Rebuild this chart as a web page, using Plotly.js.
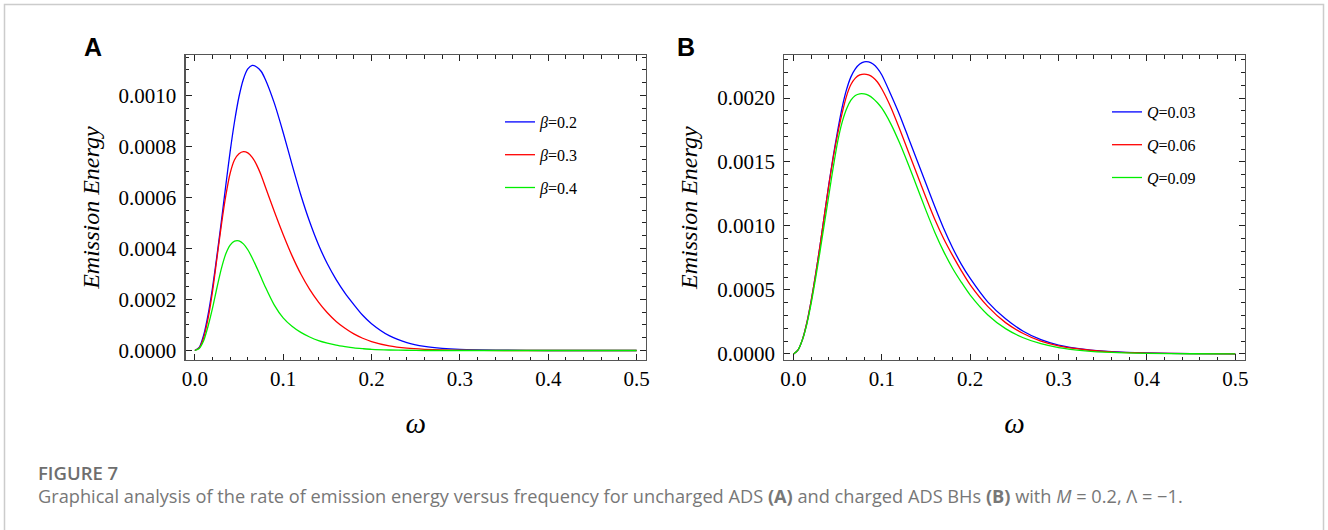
<!DOCTYPE html>
<html>
<head>
<meta charset="utf-8">
<script src="https://cdn.plot.ly/plotly-3.0.1.min.js"></script>
<style>
  html, body { margin: 0; padding: 0; background: #ffffff; }
  #chart { width: 1328px; height: 530px; }
</style>
</head>
<body>
<div id="chart"></div>
<script>
// ---------- Data ----------
// Panel A: uncharged ADS, varying beta
const omegaA = [0, 0.005, 0.01, 0.015, 0.02, 0.025, 0.03, 0.035, 0.04, 0.045, 0.05, 0.055, 0.06, 0.065, 0.07, 0.075, 0.08, 0.09, 0.1, 0.11, 0.12, 0.13, 0.14, 0.15, 0.16, 0.17, 0.18, 0.19, 0.2, 0.22, 0.24, 0.26, 0.28, 0.3, 0.35, 0.4, 0.45, 0.5];
const beta02 = [0, 0.000012, 0.00006, 0.00014, 0.000245, 0.00037, 0.000505, 0.000645, 0.00078, 0.000898, 0.000995, 0.001064, 0.001104, 0.001118, 0.001112, 0.001095, 0.001062, 0.00097, 0.000855, 0.00073, 0.00061, 0.000505, 0.000415, 0.00034, 0.000278, 0.000225, 0.00018, 0.000138, 0.000105, 0.000058, 0.000031, 0.000016, 0.000008, 0.000004, 0.000001, 0, 0, 0];
const beta03 = [0, 0.00001, 0.00005, 0.000125, 0.00023, 0.00036, 0.00049, 0.000605, 0.000695, 0.000748, 0.000772, 0.00078, 0.000775, 0.000757, 0.000728, 0.000688, 0.00064, 0.000545, 0.000455, 0.000372, 0.0003, 0.00024, 0.00019, 0.000148, 0.000114, 0.000087, 0.000065, 0.000048, 0.000035, 0.000018, 0.000009, 0.0000045, 0.000002, 0.000001, 0, 0, 0, 0];
const beta04 = [0, 0.000008, 0.000038, 0.000095, 0.000165, 0.000245, 0.00032, 0.000378, 0.000413, 0.000429, 0.00043, 0.000418, 0.000395, 0.000363, 0.000326, 0.000287, 0.000248, 0.000178, 0.000128, 0.000095, 0.000071, 0.000053, 0.000039, 0.000029, 0.000021, 0.000015, 0.00001, 0.000007, 0.0000045, 0.000002, 0.000001, 0, 0, 0, 0, 0, 0, 0];
const labelsA = ['<i>β</i>=0.2', '<i>β</i>=0.3', '<i>β</i>=0.4'];

// Panel B: charged ADS BHs, varying Q
const omegaB = [0, 0.005, 0.01, 0.015, 0.02, 0.025, 0.03, 0.035, 0.04, 0.045, 0.05, 0.055, 0.06, 0.065, 0.07, 0.075, 0.08, 0.085, 0.09, 0.095, 0.1, 0.11, 0.12, 0.13, 0.14, 0.15, 0.16, 0.17, 0.18, 0.19, 0.2, 0.22, 0.24, 0.26, 0.28, 0.3, 0.33, 0.36, 0.4, 0.45, 0.5];
const q003 = [0, 0.00003, 0.00011, 0.00024, 0.000415, 0.00062, 0.000845, 0.001085, 0.001325, 0.001545, 0.001745, 0.001925, 0.002065, 0.002165, 0.002228, 0.002265, 0.002283, 0.002282, 0.002265, 0.002232, 0.00218, 0.00203, 0.00187, 0.00169, 0.00151, 0.00133, 0.00115, 0.00098, 0.00083, 0.0007, 0.00059, 0.000405, 0.000275, 0.000178, 0.000112, 0.00007, 0.000036, 0.000018, 0.000008, 0.000003, 0.000001];
const q006 = [0, 0.00003, 0.00011, 0.00024, 0.000415, 0.00062, 0.000845, 0.001085, 0.00132, 0.001535, 0.00172, 0.00188, 0.002015, 0.002105, 0.002155, 0.00218, 0.002187, 0.00218, 0.00216, 0.002125, 0.00207, 0.00193, 0.00176, 0.00158, 0.0014, 0.00122, 0.00105, 0.0009, 0.00077, 0.00065, 0.00054, 0.00037, 0.000245, 0.00016, 0.0001, 0.000063, 0.000033, 0.000016, 0.000007, 0.0000025, 0.000001];
const q009 = [0, 0.00003, 0.00011, 0.00023, 0.000395, 0.00059, 0.0008, 0.00102, 0.00124, 0.00146, 0.00166, 0.00181, 0.001915, 0.001983, 0.00202, 0.002033, 0.002032, 0.00202, 0.001997, 0.001963, 0.00192, 0.0018, 0.00165, 0.00148, 0.0013, 0.00112, 0.00095, 0.0008, 0.00067, 0.00056, 0.00046, 0.000305, 0.000198, 0.000127, 0.00008, 0.00005, 0.000025, 0.000012, 0.000005, 0.000002, 0.000001];
const labelsB = ['<i>Q</i>=0.03', '<i>Q</i>=0.06', '<i>Q</i>=0.09'];

const seriesColors = ['#0000ff', '#ff0000', '#00ee00'];

// ---------- Geometry (canvas pixels) ----------
const W = 1328, H = 530;
const px = v => v / W;
const py = v => 1 - v / H;

const serif = 'Liberation Serif, Times New Roman, serif';

function mkTrace(x, y, name, color, xa, ya, leg, grp) {
  return {
    x: x, y: y, name: name, type: 'scatter', mode: 'lines',
    line: {color: color, width: 1.3, shape: 'spline', smoothing: 0.7},
    xaxis: xa, yaxis: ya, legend: leg, legendgroup: grp,
    hoverinfo: 'skip'
  };
}

const traces = [
  mkTrace(omegaA, beta02, labelsA[0], seriesColors[0], 'x', 'y', 'legend', 'a1'),
  mkTrace(omegaA, beta03, labelsA[1], seriesColors[1], 'x', 'y', 'legend', 'a2'),
  mkTrace(omegaA, beta04, labelsA[2], seriesColors[2], 'x', 'y', 'legend', 'a3'),
  mkTrace(omegaB, q003, labelsB[0], seriesColors[0], 'x2', 'y2', 'legend2', 'b1'),
  mkTrace(omegaB, q006, labelsB[1], seriesColors[1], 'x2', 'y2', 'legend2', 'b2'),
  mkTrace(omegaB, q009, labelsB[2], seriesColors[2], 'x2', 'y2', 'legend2', 'b3')
];

function xAxis(domain) {
  return {
    domain: domain, range: [-0.0104, 0.5104], dtick: 0.1, tick0: 0, tickformat: '.1f',
    showgrid: false, zeroline: false, showline: true, linecolor: '#555', linewidth: 1.2,
    mirror: 'allticks', ticks: 'inside', ticklen: 6, tickwidth: 1, tickcolor: '#222',
    minor: {dtick: 0.02, ticks: 'inside', ticklen: 3.5, tickwidth: 1, tickcolor: '#222', showgrid: false},
    tickfont: {family: serif, size: 21, color: '#000'},
    ticklabelstandoff: 0,
    title: {text: '<i>ω</i>', font: {family: serif, size: 29, color: '#000'}, standoff: 22},
    automargin: false
  };
}
function yAxis(range, dtick, minorDtick, anchor) {
  return {
    domain: [py(360), py(55.3)], range: range, dtick: dtick, tick0: 0, tickformat: '.4f',
    anchor: anchor,
    showgrid: false, zeroline: false, showline: true, linecolor: '#555', linewidth: 1.2,
    mirror: 'allticks', ticks: 'inside', ticklen: 6, tickwidth: 1, tickcolor: '#222',
    minor: {dtick: minorDtick, ticks: 'inside', ticklen: 3.5, tickwidth: 1, tickcolor: '#222', showgrid: false},
    tickfont: {family: serif, size: 21, color: '#000'},
    ticklabelstandoff: 4,
    title: {text: '<i>Emission Energy</i>', font: {family: serif, size: 24, color: '#000'}, standoff: 12},
    automargin: false
  };
}

const xa = xAxis([px(185.6), px(645.8)]); xa.anchor = 'y';
const xb = xAxis([px(784.3), px(1244.5)]); xb.anchor = 'y2';

function legendAt(left, top) {
  return {
    x: px(left), y: py(top), xanchor: 'left', yanchor: 'top',
    bgcolor: 'rgba(0,0,0,0)', borderwidth: 0,
    font: {family: serif, size: 16, color: '#000'},
    tracegroupgap: 9, itemwidth: 30, traceorder: 'grouped'
  };
}

const layout = {
  width: W, height: H,
  margin: {l: 0, r: 0, t: 0, b: 0},
  paper_bgcolor: '#ffffff', plot_bgcolor: '#ffffff',
  showlegend: true,
  xaxis: xa,
  yaxis: yAxis([-0.0000373, 0.0011576], 0.0002, 0.00005, 'x'),
  xaxis2: xb,
  yaxis2: yAxis([-0.000047, 0.0023336], 0.0005, 0.0001, 'x2'),
  legend: legendAt(500, 105),
  legend2: legendAt(1107, 95),
  annotations: [
    {text: '<b>A</b>', x: px(93), y: py(47), xref: 'paper', yref: 'paper', xanchor: 'center', yanchor: 'middle', showarrow: false,
     font: {family: 'Liberation Sans, Arial, sans-serif', size: 25, color: '#000'}},
    {text: '<b>B</b>', x: px(686), y: py(47), xref: 'paper', yref: 'paper', xanchor: 'center', yanchor: 'middle', showarrow: false,
     font: {family: 'Liberation Sans, Arial, sans-serif', size: 25, color: '#000'}},
    {text: 'FIGURE 7', x: px(36), y: py(472), xref: 'paper', yref: 'paper', xanchor: 'left', yanchor: 'middle', showarrow: false,
     font: {family: 'Open Sans, sans-serif', size: 18.5, color: '#6e6e6e', weight: 600}},
    {text: 'Graphical analysis of the rate of emission energy versus frequency for uncharged ADS <b>(A)</b> and charged ADS BHs <b>(B)</b> with <i>M</i> = 0.2, Λ = −1.',
     x: px(36), y: py(496), xref: 'paper', yref: 'paper', xanchor: 'left', yanchor: 'middle', showarrow: false,
     font: {family: 'Open Sans, sans-serif', size: 18.2, color: '#777777'}}
  ],
  shapes: [
    {type: 'rect', xref: 'paper', yref: 'paper', x0: px(4.5), x1: px(1323.5), y0: -0.2, y1: py(4.5),
     line: {color: '#cccccc', width: 1.5}, fillcolor: 'rgba(0,0,0,0)', layer: 'below'}
  ]
};

Plotly.newPlot('chart', traces, layout, {displayModeBar: false, staticPlot: true});
</script>
</body>
</html>
